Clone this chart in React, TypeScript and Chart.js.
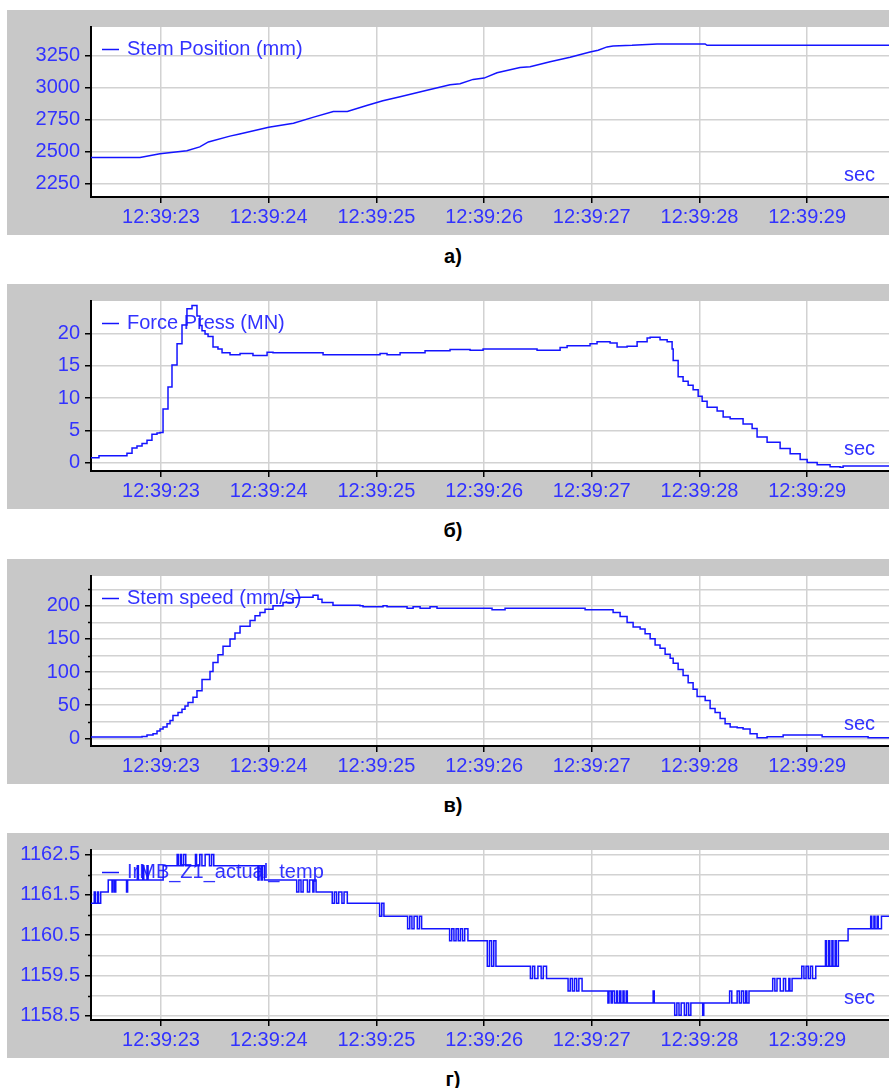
import React, { useEffect, useRef } from 'react';
import { Chart, registerables } from 'chart.js';

Chart.register(...registerables);

const FONT = '"Liberation Sans", Arial, Helvetica, sans-serif';
const LINE_COLOR = '#1414ff';
const TEXT_COLOR = '#3232ff';
const GRID_COLOR = '#d2d2d2';
const PANEL_BG = '#c8c8c8';

// x axis: seconds after 12:39:00
const X_MIN = 22.35;
const X_MAX = 29.76;
const X_TICKS = [23, 24, 25, 26, 27, 28, 29];
const X_LABEL_PREFIX = '12:39:';
const X_UNIT = 'sec';

// а) Stem Position (mm)
const POS_T = [22.35, 22.805, 22.99, 23.24, 23.36, 23.44, 23.64, 23.73, 24.0, 24.23, 24.41, 24.6, 24.73, 24.91, 25.06, 25.22, 25.45, 25.684, 25.777, 25.898, 26.0, 26.12, 26.334, 26.427, 26.613, 26.799, 26.984, 27.059, 27.142, 27.198, 27.374, 27.607, 28.053, 28.07, 29.76];
const POS_V = [2455, 2455, 2485, 2508, 2538, 2577, 2622, 2638, 2691, 2722, 2768, 2814, 2814, 2860, 2898, 2929, 2975, 3023, 3030, 3064, 3074, 3115, 3156, 3163, 3202, 3237, 3278, 3291, 3317, 3324, 3329, 3340, 3340, 3329, 3329];
const POS_Y_TICKS = [2250, 2500, 2750, 3000, 3250];

// б) Force Press (MN)
const FORCE_T = [22.35, 22.424, 22.684, 22.731, 22.777, 22.824, 22.87, 22.916, 22.963, 22.991, 23.019, 23.065, 23.102, 23.149, 23.195, 23.241, 23.288, 23.334, 23.362, 23.381, 23.409, 23.437, 23.483, 23.529, 23.567, 23.641, 23.734, 23.854, 23.985, 24.04, 24.505, 24.913, 25.034, 25.099, 25.22, 25.452, 25.684, 25.87, 25.991, 26.306, 26.492, 26.706, 26.771, 26.984, 27.049, 27.17, 27.235, 27.328, 27.421, 27.514, 27.542, 27.634, 27.7, 27.746, 27.756, 27.802, 27.848, 27.895, 27.941, 27.988, 28.025, 28.071, 28.164, 28.22, 28.285, 28.405, 28.489, 28.535, 28.628, 28.749, 28.842, 28.935, 29.0, 29.093, 29.213, 29.306, 29.334, 29.76];
const FORCE_V = [0.8, 1.1, 1.5, 2.3, 2.6, 3.0, 3.5, 4.4, 4.6, 4.7, 8.3, 11.7, 15.1, 18.4, 21.3, 23.8, 24.3, 22.7, 21.2, 20.4, 19.9, 19.5, 17.9, 17.6, 17.0, 16.7, 16.9, 16.6, 17.1, 17.0, 16.7, 16.7, 16.9, 16.7, 17.0, 17.3, 17.5, 17.4, 17.6, 17.6, 17.4, 17.8, 18.1, 18.4, 18.7, 18.5, 17.9, 18.0, 18.7, 19.3, 19.4, 19.0, 18.7, 17.6, 15.8, 13.3, 12.6, 12.0, 11.3, 10.3, 9.5, 8.6, 8.0, 7.1, 6.8, 6.0, 5.3, 4.0, 3.2, 2.2, 1.4, 0.5, 0.05, -0.3, -0.6, -0.7, -0.5, -0.5];
const FORCE_Y_TICKS = [0, 5, 10, 15, 20];

// в) Stem speed (mm/s)
const SPEED_T = [22.35, 22.805, 22.824, 22.87, 22.926, 22.963, 22.991, 23.019, 23.056, 23.084, 23.111, 23.158, 23.195, 23.223, 23.251, 23.297, 23.334, 23.381, 23.455, 23.483, 23.529, 23.576, 23.641, 23.687, 23.734, 23.827, 23.873, 23.919, 23.966, 24.04, 24.133, 24.226, 24.291, 24.412, 24.458, 24.495, 24.597, 24.848, 24.876, 25.062, 25.099, 25.285, 25.341, 25.406, 25.498, 25.563, 26.074, 26.195, 26.938, 27.198, 27.263, 27.328, 27.384, 27.449, 27.495, 27.542, 27.588, 27.634, 27.681, 27.728, 27.756, 27.802, 27.848, 27.895, 27.941, 27.978, 28.053, 28.099, 28.145, 28.192, 28.238, 28.285, 28.35, 28.405, 28.47, 28.535, 28.628, 28.777, 29.139, 29.566, 29.76];
const SPEED_V = [2, 2, 3, 5, 7, 11, 14, 17, 22, 27, 34.5, 39, 44, 49, 54, 62, 72, 89, 101, 114.5, 126, 139, 150, 159, 169, 178, 185, 190, 195, 200, 205, 212, 213, 216, 210, 205, 201, 200, 198.5, 200, 198.5, 196.5, 198.5, 196.5, 198.5, 196.5, 194, 196.5, 194, 190, 184, 175, 168, 165, 158, 150.5, 141, 136, 127, 121, 113.5, 104, 95, 84, 74, 63, 57, 45, 39, 30, 22, 17, 16, 14, 7, 1, 2.5, 5, 2.5, 1, 1];
const SPEED_Y_TICKS = [0, 25, 50, 75, 100, 125, 150, 175, 200, 225];
const SPEED_Y_LABELS = [0, 50, 100, 150, 200];

// г) IrMB_Z1_actual_temp  [time, value]
const TEMP_SAMPLES: [number, number][] = [
  [22.35, 1161.29], [22.38, 1161.57], [22.39, 1161.29], [22.41, 1161.57], [22.42, 1161.29], [22.44, 1161.57],
  [22.51, 1161.87], [22.545, 1161.57], [22.555, 1161.87], [22.57, 1161.57], [22.58, 1161.87], [22.68, 1161.57], [22.69, 1161.87],
  [22.78, 1162.22], [22.79, 1161.87], [22.83, 1162.22], [22.84, 1161.87], [22.87, 1162.22], [22.88, 1161.87],
  [23.02, 1162.22], [23.15, 1162.5], [23.16, 1162.22], [23.18, 1162.5], [23.19, 1162.22], [23.21, 1162.5], [23.23, 1162.22],
  [23.32, 1162.5], [23.33, 1162.22], [23.36, 1162.5], [23.38, 1162.22], [23.41, 1162.5], [23.45, 1162.22], [23.47, 1162.5], [23.49, 1162.22],
  [23.9, 1161.87], [23.91, 1162.22], [23.93, 1161.87], [23.94, 1162.22], [23.96, 1161.87],
  [24.26, 1161.57], [24.28, 1161.87], [24.3, 1161.57], [24.32, 1161.87], [24.36, 1161.57], [24.38, 1161.87], [24.41, 1161.57], [24.42, 1161.87], [24.44, 1161.57],
  [24.59, 1161.29], [24.61, 1161.57], [24.63, 1161.29], [24.65, 1161.57], [24.68, 1161.29], [24.7, 1161.57], [24.73, 1161.29],
  [25.03, 1160.97], [25.05, 1161.29], [25.07, 1160.97],
  [25.29, 1160.66], [25.31, 1160.97], [25.33, 1160.66], [25.35, 1160.97], [25.38, 1160.66], [25.4, 1160.97], [25.42, 1160.66],
  [25.68, 1160.36], [25.7, 1160.66], [25.72, 1160.36], [25.74, 1160.66], [25.76, 1160.36], [25.78, 1160.66], [25.8, 1160.36], [25.82, 1160.66], [25.85, 1160.36],
  [26.03, 1159.73], [26.05, 1160.36], [26.07, 1159.73], [26.09, 1160.36], [26.11, 1159.73],
  [26.43, 1159.43], [26.45, 1159.73], [26.47, 1159.43], [26.5, 1159.73], [26.53, 1159.43], [26.55, 1159.73], [26.58, 1159.43],
  [26.78, 1159.12], [26.8, 1159.43], [26.82, 1159.12], [26.84, 1159.43], [26.86, 1159.12], [26.88, 1159.43], [26.91, 1159.12],
  [27.15, 1158.82], [27.16, 1159.12], [27.18, 1158.82], [27.19, 1159.12], [27.21, 1158.82], [27.23, 1159.12], [27.24, 1158.82],
  [27.26, 1159.12], [27.27, 1158.82], [27.29, 1159.12], [27.3, 1158.82], [27.32, 1159.12], [27.33, 1158.82],
  [27.57, 1159.12], [27.58, 1158.82],
  [27.77, 1158.52], [27.79, 1158.82], [27.81, 1158.52], [27.83, 1158.82], [27.86, 1158.52], [27.88, 1158.82], [27.9, 1158.52], [27.92, 1158.82],
  [28.03, 1158.52], [28.04, 1158.82],
  [28.28, 1159.12], [28.3, 1158.82], [28.35, 1159.12], [28.37, 1158.82], [28.39, 1159.12], [28.41, 1158.82], [28.43, 1159.12], [28.44, 1158.82], [28.46, 1159.12],
  [28.68, 1159.43], [28.7, 1159.12], [28.72, 1159.43], [28.75, 1159.12], [28.78, 1159.43], [28.8, 1159.12], [28.83, 1159.43], [28.84, 1159.12], [28.86, 1159.43],
  [28.95, 1159.73], [28.97, 1159.43], [28.99, 1159.73], [29.01, 1159.43], [29.03, 1159.73], [29.05, 1159.43], [29.08, 1159.73],
  [29.17, 1160.36], [29.18, 1159.73], [29.2, 1160.36], [29.21, 1159.73], [29.23, 1160.36], [29.24, 1159.73], [29.26, 1160.36], [29.27, 1159.73], [29.29, 1160.36],
  [29.38, 1160.66],
  [29.59, 1160.97], [29.6, 1160.66], [29.62, 1160.97], [29.63, 1160.66], [29.65, 1160.97], [29.66, 1160.66], [29.69, 1160.97], [29.76, 1160.97],
];
const TEMP_Y_TICKS = [1158.5, 1159, 1159.5, 1160, 1160.5, 1161, 1161.5, 1162, 1162.5];
const TEMP_Y_LABELS = [1158.5, 1159.5, 1160.5, 1161.5, 1162.5];

type Pt = { x: number; y: number };

type PanelDef = {
  id: string;
  label: string;
  caption: string;
  top: number;
  points: Pt[];
  stepped: boolean;
  yMin: number;
  yMax: number;
  yTicks: number[];
  yLabels: number[];
  decimals: number;
};

const zip = (t: number[], v: number[]): Pt[] => {
  const n = Math.min(t.length, v.length);
  const out: Pt[] = [];
  for (let i = 0; i < n; i++) out.push({ x: t[i], y: v[i] });
  return out;
};

const PANELS: PanelDef[] = [
  {
    id: 'a', label: 'Stem Position (mm)', caption: 'а)', top: 10,
    points: zip(POS_T, POS_V), stepped: false,
    yMin: 2148, yMax: 3472, yTicks: POS_Y_TICKS, yLabels: POS_Y_TICKS, decimals: 0,
  },
  {
    id: 'b', label: 'Force Press (MN)', caption: 'б)', top: 284,
    points: zip(FORCE_T, FORCE_V), stepped: true,
    yMin: -1.26, yMax: 25, yTicks: FORCE_Y_TICKS, yLabels: FORCE_Y_TICKS, decimals: 0,
  },
  {
    id: 'c', label: 'Stem speed (mm/s)', caption: 'в)', top: 559,
    points: zip(SPEED_T, SPEED_V), stepped: true,
    yMin: -11.5, yMax: 245, yTicks: SPEED_Y_TICKS, yLabels: SPEED_Y_LABELS, decimals: 0,
  },
  {
    id: 'd', label: 'IrMB_Z1_actual_temp', caption: 'г)', top: 833,
    points: TEMP_SAMPLES.map(([x, y]) => ({ x, y })), stepped: true,
    yMin: 1158.4, yMax: 1162.61, yTicks: TEMP_Y_TICKS, yLabels: TEMP_Y_LABELS, decimals: 1,
  },
];

const CANVAS_W = 882;
const CANVAS_H = 225;

function makeDecor(def: PanelDef) {
  return {
    id: 'panelDecor',
    beforeDraw(chart: any) {
      const { ctx, chartArea: a, width, height } = chart;
      ctx.save();
      ctx.fillStyle = PANEL_BG;
      ctx.fillRect(0, 0, width, height);
      ctx.fillStyle = '#ffffff';
      ctx.fillRect(a.left, a.top, a.right - a.left, a.bottom - a.top);
      ctx.restore();
    },
    beforeDatasetsDraw(chart: any) {
      const { ctx, chartArea: a } = chart;
      const y = a.top + 22.5;
      ctx.save();
      ctx.strokeStyle = LINE_COLOR;
      ctx.lineWidth = 1.5;
      ctx.beginPath();
      ctx.moveTo(a.left + 11, y);
      ctx.lineTo(a.left + 28, y);
      ctx.stroke();
      ctx.fillStyle = TEXT_COLOR;
      ctx.font = '20px ' + FONT;
      ctx.textBaseline = 'middle';
      ctx.textAlign = 'left';
      ctx.fillText(def.label, a.left + 36, y);
      ctx.restore();
    },
    afterDraw(chart: any) {
      const { ctx, chartArea: a } = chart;
      const ys = chart.scales.y;
      ctx.save();
      ctx.strokeStyle = '#000';
      ctx.lineWidth = 1.5;
      def.yTicks.forEach((v) => {
        if (def.yLabels.indexOf(v) >= 0) return;
        const py = Math.round(ys.getPixelForValue(v)) + 0.5;
        ctx.beginPath();
        ctx.moveTo(a.left - 3, py);
        ctx.lineTo(a.left, py);
        ctx.stroke();
      });
      ctx.fillStyle = TEXT_COLOR;
      ctx.font = '20px ' + FONT;
      ctx.textBaseline = 'middle';
      ctx.textAlign = 'right';
      ctx.fillText(X_UNIT, a.right - 14, a.bottom - 22);
      ctx.restore();
    },
  };
}

function buildConfig(def: PanelDef): any {
  return {
    type: 'line',
    data: {
      datasets: [
        {
          label: def.label,
          data: def.points,
          borderColor: LINE_COLOR,
          backgroundColor: LINE_COLOR,
          borderWidth: 1.5,
          pointRadius: 0,
          stepped: def.stepped,
          tension: 0,
          fill: false,
        },
      ],
    },
    options: {
      animation: false,
      responsive: false,
      maintainAspectRatio: false,
      devicePixelRatio: 1,
      events: [],
      parsing: false,
      layout: { padding: { top: 14, right: 0, left: 0, bottom: 0 } },
      plugins: {
        legend: { display: false },
        tooltip: { enabled: false },
        title: { display: false },
      },
      scales: {
        x: {
          type: 'linear',
          min: X_MIN,
          max: X_MAX,
          afterBuildTicks: (s: any) => {
            s.ticks = X_TICKS.map((v) => ({ value: v }));
          },
          afterFit: (s: any) => {
            s.height = 38;
          },
          ticks: {
            autoSkip: false,
            maxRotation: 0,
            minRotation: 0,
            color: TEXT_COLOR,
            font: { family: FONT, size: 20 },
            padding: 2,
            callback: (v: any) => X_LABEL_PREFIX + String(v),
          },
          grid: {
            color: GRID_COLOR,
            lineWidth: 1.5,
            drawTicks: true,
            tickLength: 6,
            tickColor: '#000',
          },
          border: { display: true, color: '#000', width: 2 },
        },
        y: {
          type: 'linear',
          min: def.yMin,
          max: def.yMax,
          afterBuildTicks: (s: any) => {
            s.ticks = def.yTicks.map((v) => ({ value: v }));
          },
          afterFit: (s: any) => {
            s.width = 84;
          },
          ticks: {
            autoSkip: false,
            color: TEXT_COLOR,
            font: { family: FONT, size: 20 },
            padding: 5,
            callback: (v: any) =>
              def.yLabels.indexOf(v) >= 0 ? Number(v).toFixed(def.decimals) : '',
          },
          grid: {
            color: GRID_COLOR,
            lineWidth: 1.5,
            drawTicks: true,
            tickLength: 6,
            tickColor: (ctx: any) =>
              ctx.tick && def.yLabels.indexOf(ctx.tick.value) >= 0 ? '#000' : 'rgba(0,0,0,0)',
          },
          border: { display: true, color: '#000', width: 2 },
        },
      },
    },
    plugins: [makeDecor(def)],
  };
}

function Panel({ def }: { def: PanelDef }) {
  const ref = useRef<HTMLCanvasElement | null>(null);
  useEffect(() => {
    const canvas = ref.current;
    if (!canvas) return;
    const chart = new Chart(canvas, buildConfig(def));
    return () => {
      chart.destroy();
    };
  }, [def]);
  return (
    <canvas
      ref={ref}
      width={CANVAS_W}
      height={CANVAS_H}
      style={{
        position: 'absolute',
        left: 7,
        top: def.top,
        width: CANVAS_W,
        height: CANVAS_H,
        display: 'block',
        background: PANEL_BG,
      }}
    />
  );
}

export default function App() {
  return (
    <div
      style={{
        position: 'absolute',
        left: 0,
        top: 0,
        width: 889,
        height: 1088,
        overflow: 'hidden',
        background: '#ffffff',
      }}
    >
      {PANELS.map((p) => (
        <Panel key={p.id} def={p} />
      ))}
      {PANELS.map((p) => (
        <div
          key={'cap-' + p.id}
          style={{
            position: 'absolute',
            left: 353,
            width: 200,
            top: p.top + CANVAS_H + 11,
            height: 20,
            lineHeight: '20px',
            textAlign: 'center',
            fontFamily: FONT,
            fontWeight: 'bold',
            fontSize: 20,
            color: '#000',
          }}
        >
          {p.caption}
        </div>
      ))}
    </div>
  );
}
